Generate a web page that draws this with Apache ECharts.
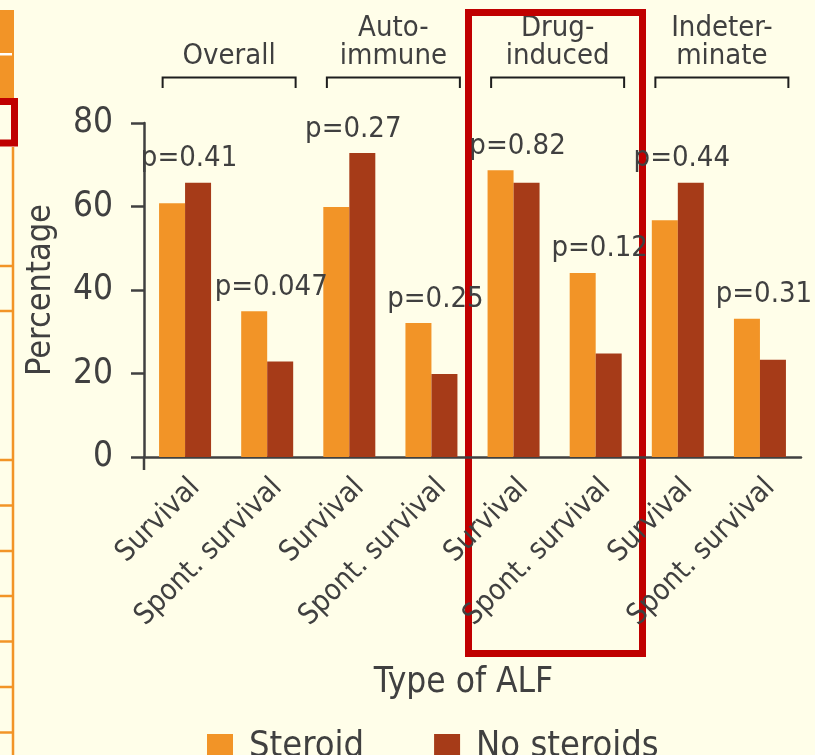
<!DOCTYPE html>
<html>
<head>
<meta charset="utf-8">
<script src="https://cdn.jsdelivr.net/npm/echarts@6/dist/echarts.min.js"></script>
<style>
  html, body { margin: 0; padding: 0; background: #FFFEE9; }
  #chart { width: 815px; height: 755px; }
</style>
</head>
<body>
<div id="chart"></div>
<script>
// Outcome categories along the x axis (two per ALF type)
const categories = ['Survival', 'Spont. survival', 'Survival', 'Spont. survival',
                    'Survival', 'Spont. survival', 'Survival', 'Spont. survival'];
// ALF type groups, each spanning two categories
const groups = ['Overall', 'Auto-\nimmune', 'Drug-\ninduced', 'Indeter-\nminate'];
// Percentages per category
const steroid    = [60.8, 34.9, 59.9, 32.1, 68.7, 44.1, 56.7, 33.1];
const noSteroids = [65.7, 22.9, 72.8, 19.9, 65.7, 24.8, 65.7, 23.3];
// p-values comparing the two arms
const pValues = ['p=0.41', 'p=0.047', 'p=0.27', 'p=0.25', 'p=0.82', 'p=0.12', 'p=0.44', 'p=0.31'];
const yTicks = { min: 0, max: 80, interval: 20 };

const TEXT = '#404040';
const FONT = '"DejaVu Sans Condensed", "DejaVu Sans"';
const ORANGE = '#F29427';
const RUST = '#A63B18';

const pairMax = steroid.map((v, i) => Math.max(v, noSteroids[i]));

const chart = echarts.init(document.getElementById('chart'), null, { renderer: 'canvas' });

const option = {
  backgroundColor: '#FFFEE9',
  textStyle: { fontFamily: FONT, color: TEXT },
  animation: false,
  grid: { left: 144, right: 14, top: 123, bottom: 298 },
  legend: {
    data: ['Steroid', 'No steroids'],
    left: 202,
    top: 724,
    icon: 'rect',
    itemWidth: 26,
    itemHeight: 26,
    itemGap: 70,
    textStyle: { fontFamily: FONT, fontSize: 36, color: TEXT, lineHeight: 26, padding: [0, 0, 0, 11] }
  },
  xAxis: {
    type: 'category',
    data: categories,
    name: 'Type of ALF',
    nameLocation: 'middle',
    nameGap: 208,
    nameTextStyle: { fontFamily: FONT, fontSize: 35, color: TEXT, padding: [0, 18, 0, 0] },
    axisLine: { lineStyle: { color: TEXT, width: 2.5 } },
    axisTick: { alignWithLabel: true, length: 13, lineStyle: { color: TEXT, width: 2.5 } },
    axisLabel: {
      rotate: 45, fontFamily: FONT, fontSize: 29, color: TEXT,
      margin: 16, interval: 0, verticalAlign: 'top'
    }
  },
  yAxis: {
    type: 'value',
    min: yTicks.min,
    max: yTicks.max,
    interval: yTicks.interval,
    name: 'Percentage',
    nameLocation: 'middle',
    nameGap: 86,
    nameTextStyle: { fontFamily: FONT, fontSize: 34, color: TEXT },
    splitLine: { show: false },
    axisLine: { show: true, lineStyle: { color: TEXT, width: 2.5 } },
    axisTick: { show: true, length: 13, lineStyle: { color: TEXT, width: 2.5 } },
    axisLabel: { fontFamily: FONT, fontSize: 35, color: TEXT, margin: 31 }
  },
  series: [
    {
      name: 'Steroid', type: 'bar', data: steroid,
      barWidth: 26, barGap: '0%',
      itemStyle: { color: ORANGE }
    },
    {
      name: 'No steroids', type: 'bar', data: noSteroids,
      barWidth: 26,
      itemStyle: { color: RUST }
    },
    {
      name: 'p', type: 'scatter', data: pairMax,
      symbolSize: 0, silent: true,
      itemStyle: { opacity: 1 },
      label: {
        show: true, position: 'top', distance: 10, offset: [4, 0],
        formatter: (p) => pValues[p.dataIndex],
        fontFamily: FONT, fontSize: 29, color: TEXT, opacity: 1, lineHeight: 28
      }
    }
  ]
};
chart.setOption(option);

// Group brackets, group titles, axis-origin extension and slide decoration
function px(cat, val) { return chart.convertToPixel({ gridIndex: 0 }, [cat, val]); }
const band = px(1, 0)[0] - px(0, 0)[0];
const origin = px(0, 0);
const axisLeft = origin[0] - band / 2;
const graphics = [];

groups.forEach((g, i) => {
  const mid = (px(2 * i, 0)[0] + px(2 * i + 1, 0)[0]) / 2 + 3;
  const half = 66.5;
  graphics.push({
    type: 'polyline',
    shape: { points: [[mid - half, 88], [mid - half, 77.5], [mid + half, 77.5], [mid + half, 88]] },
    style: { stroke: '#1E1E1E', lineWidth: 2, fill: null }
  });
  graphics.push({
    type: 'text',
    x: mid, y: 70,
    style: {
      text: g, fontFamily: FONT, fontSize: 29, fill: TEXT, lineHeight: 28,
      align: 'center', verticalAlign: 'bottom'
    }
  });
});

// y-axis line continues slightly below zero
graphics.push({
  type: 'line',
  shape: { x1: axisLeft, y1: origin[1], x2: axisLeft, y2: origin[1] + 13 },
  style: { stroke: TEXT, lineWidth: 2.5 }
});

// Highlight box around the drug-induced group
graphics.push({
  type: 'rect',
  shape: { x: 468.5, y: 12.5, width: 174, height: 641 },
  style: { fill: null, stroke: '#C00000', lineWidth: 7 }
});

// Slide navigation strip on the left edge
graphics.push({ type: 'rect', shape: { x: 0, y: 10, width: 14, height: 88 }, style: { fill: '#F29427' } });
graphics.push({ type: 'rect', shape: { x: 0, y: 53, width: 12, height: 2.5 }, style: { fill: '#FFFFFF' } });
graphics.push({
  type: 'line', shape: { x1: 13, y1: 147, x2: 13, y2: 755 },
  style: { stroke: '#F29427', lineWidth: 2.5 }
});
[266, 311, 460, 505.5, 551, 596, 641.5, 687, 732.5].forEach((y) => {
  graphics.push({
    type: 'line', shape: { x1: 0, y1: y, x2: 13, y2: y },
    style: { stroke: '#F29427', lineWidth: 2.5 }
  });
});
graphics.push({
  type: 'rect',
  shape: { x: -10, y: 101.5, width: 24.5, height: 41.5 },
  style: { fill: null, stroke: '#C00000', lineWidth: 7 }
});

chart.setOption({ graphic: graphics });
</script>
</body>
</html>
